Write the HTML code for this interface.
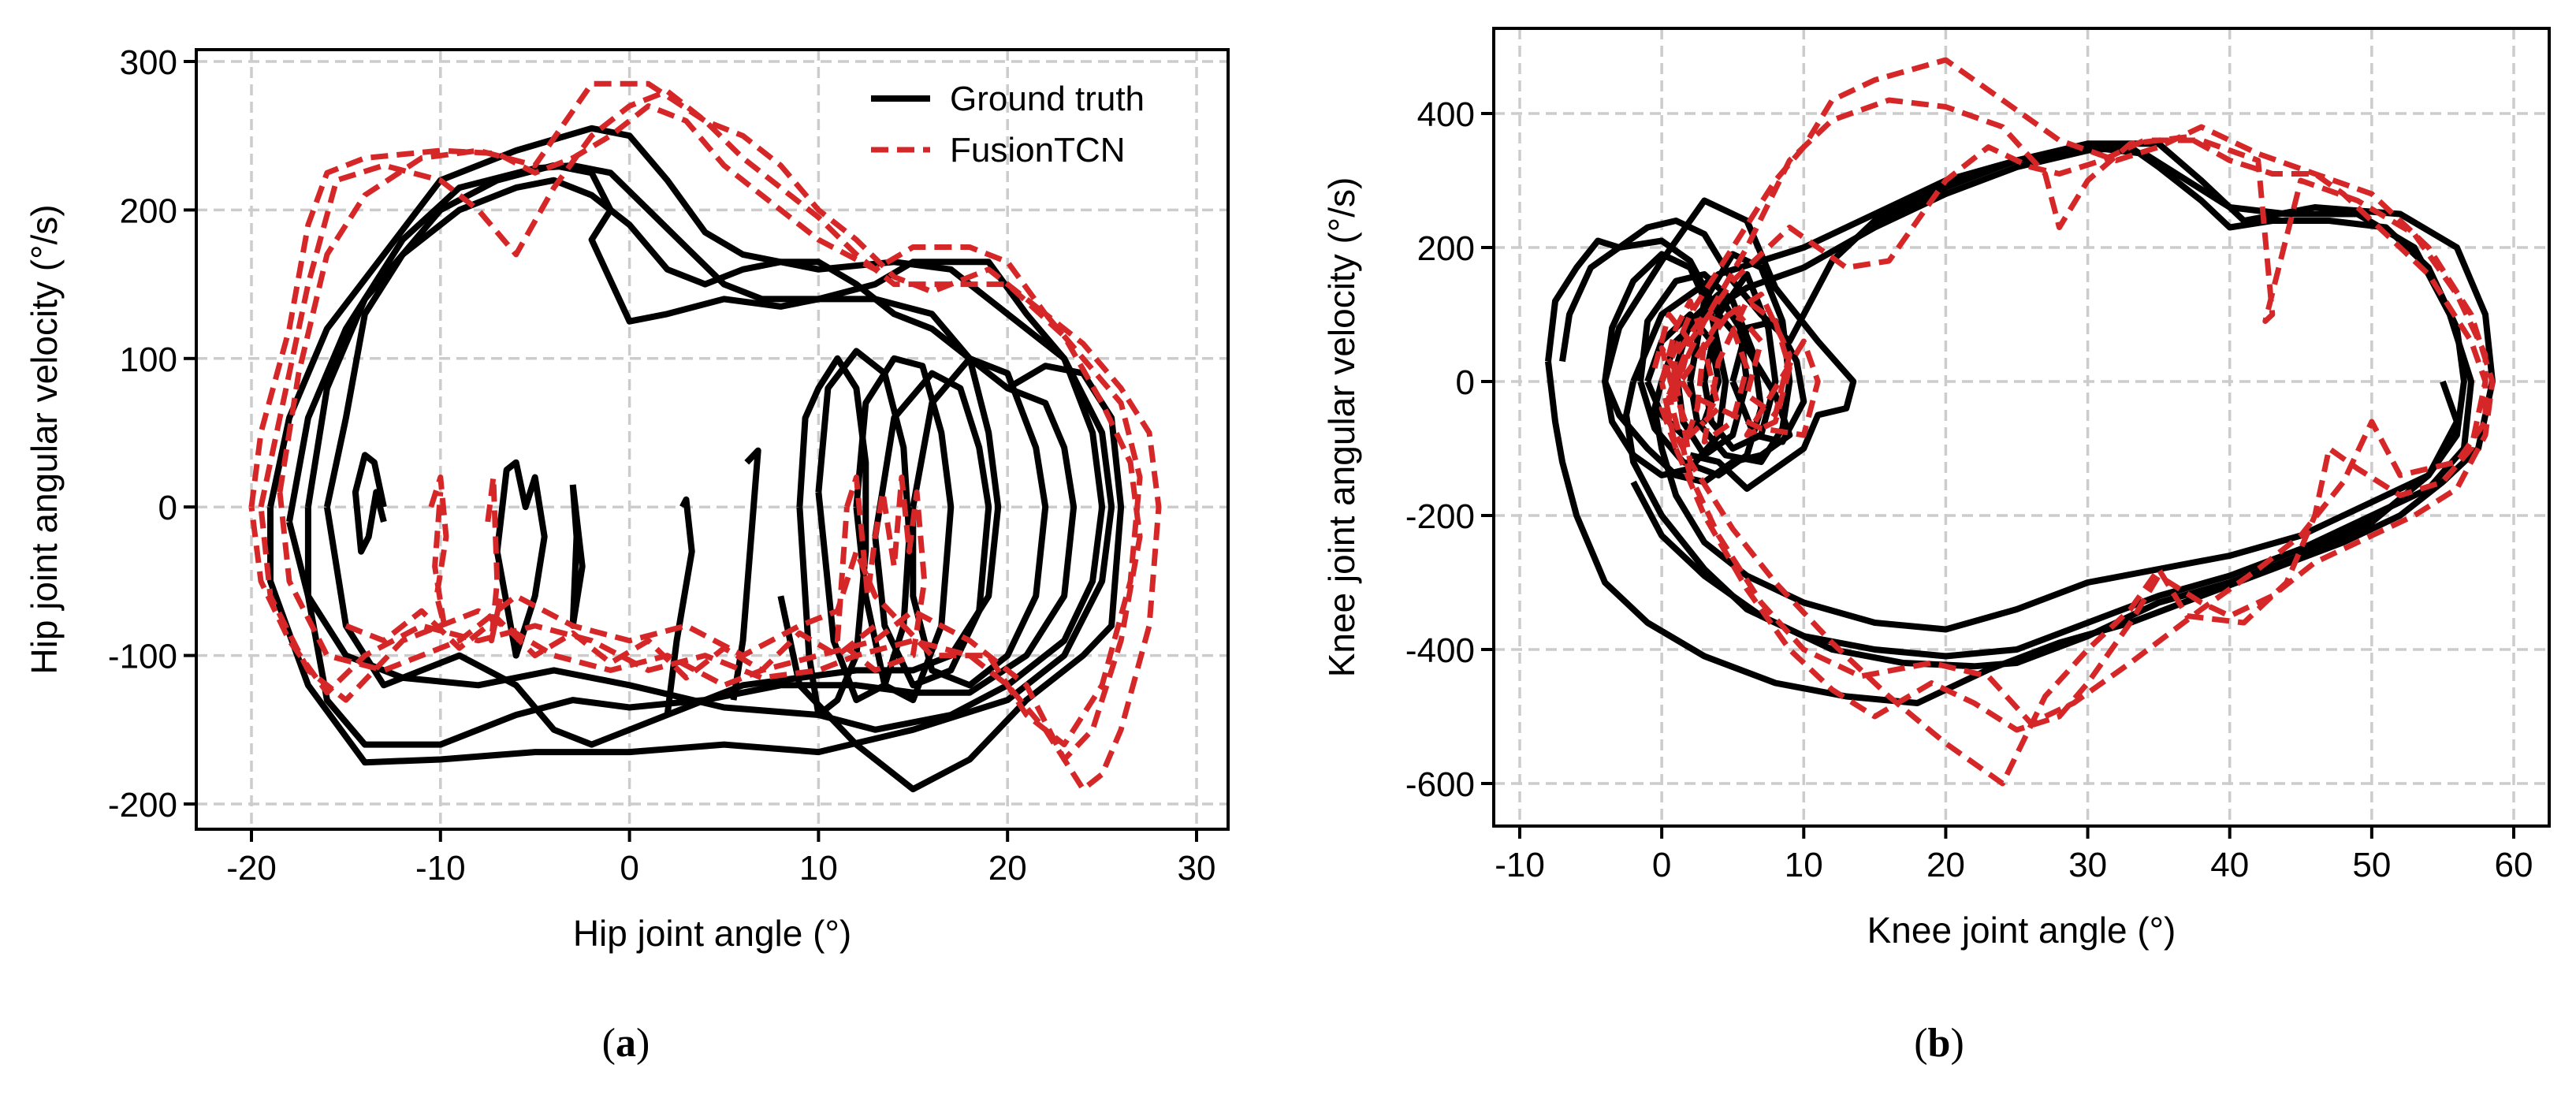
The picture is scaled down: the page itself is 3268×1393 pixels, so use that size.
<!DOCTYPE html>
<html><head><meta charset="utf-8">
<style>
html,body{margin:0;padding:0;background:#fff;}
svg{display:block;font-family:"Liberation Sans","DejaVu Sans",sans-serif;}
</style></head>
<body>
<svg id="fig" width="3268" height="1393" viewBox="0 0 3268 1393" xmlns="http://www.w3.org/2000/svg">
<defs>
<clipPath id="clipA"><rect x="249" y="63" width="1309" height="989"/></clipPath>
<clipPath id="clipB"><rect x="1895" y="36" width="1339" height="1012"/></clipPath>
</defs>
<g id="panelA"></g>
<g id="panelB"></g>
<text x="794" y="1340" font-family="Liberation Serif,serif" font-size="52" text-anchor="middle">(<tspan font-weight="bold">a</tspan>)</text>
<text x="2460" y="1340" font-family="Liberation Serif,serif" font-size="52" text-anchor="middle">(<tspan font-weight="bold">b</tspan>)</text>
</svg>
<script>
// ---------- Panel A data (hip angle °, hip velocity °/s) ----------
const hipXTicks = [-20,-10,0,10,20,30];
const hipYTicks = [-200,-100,0,100,200,300];
const hipTruth = [
 [[-19,0],[-18,60],[-16,120],[-13,170],[-10,220],[-6,240],[-2,255],[0,250],[2,220],[4,185],[6,170],[10,160],[14,165],[17,160],[20,130],[23,100],[25,50],[25.5,0],[25,-50],[23,-100],[20,-130],[15,-150],[10,-165],[5,-160],[0,-165],[-5,-165],[-10,-170],[-14,-172],[-17,-120],[-19,-50],[-19,0]],
 [[-18,-10],[-17,60],[-15,120],[-12,180],[-9,215],[-5,228],[-3,230],[-1,225],[1,200],[3,175],[5,150],[7,140],[10,140],[13,150],[15,165],[17,165],[19,165],[21,130],[23,100],[24.5,50],[25,0],[24.5,-50],[23,-90],[20,-120],[17,-140],[13,-150],[10,-140],[5,-135],[0,-120],[-4,-110],[-8,-120],[-12,-115],[-15,-100],[-17,-60],[-18,-10]],
 [[-17,0],[-16,80],[-14,140],[-10,200],[-7,220],[-4,230],[-2,225],[-1,200],[-2,180],[0,125],[2,130],[5,140],[8,135],[10,140],[13,140],[16,130],[18,100],[20,80],[22,70],[23,40],[23.5,0],[23,-60],[21,-100],[18,-125],[15,-125],[12,-120],[8,-120],[4,-130],[0,-135],[-3,-130],[-6,-140],[-10,-160],[-14,-160],[-16,-130],[-17,-60],[-17,0]],
 [[-16,0],[-15,60],[-14,130],[-12,170],[-9,200],[-6,215],[-4,220],[-2,210],[0,190],[2,160],[4,150],[6,160],[8,165],[10,165],[12,150],[14,130],[16,120],[18,100],[19,50],[19.5,0],[19,-60],[17,-100],[15,-110],[12,-110],[9,-115],[6,-120],[3,-135],[0,-150],[-2,-160],[-4,-150],[-6,-120],[-9,-100],[-13,-120],[-15,-80],[-16,0]],
 [[-13,0],[-13.5,30],[-14,35],[-14.5,10],[-14.2,-30],[-13.8,-20],[-13.4,10],[-13,-10]],
 [[-7,-30],[-6.5,25],[-6,30],[-5.5,0],[-5,20],[-4.5,-20],[-5,-60],[-6,-100],[-7,-30]],
 [[-3,15],[-2.8,-20],[-3,-80],[-2.5,-40],[-3,15]],
 [[2.8,0],[3,5],[3.3,-30],[2.5,-90],[2,-140]],
 [[6.2,30],[6.8,38],[6.5,-10],[6,-90],[5.5,-130]],
 [[9,0],[9.3,60],[10,80],[11,100],[12,80],[12.5,30],[12.5,-30],[12,-100],[11,-130],[10,-140],[9.5,-100],[9,0]],
 [[10,10],[10.5,80],[12,105],[13.5,90],[14.5,40],[14.8,-20],[14.5,-80],[13.5,-120],[12,-130],[10.8,-90],[10,10]],
 [[12,0],[12.5,70],[14,100],[15.5,95],[16.5,50],[17,0],[16.5,-80],[15,-130],[13.5,-120],[12.5,-60],[12,0]],
 [[13,-20],[14,60],[16,90],[17.5,80],[18.5,40],[19,0],[18.5,-70],[17,-110],[15,-120],[13.5,-80],[13,-20]],
 [[15,0],[16,70],[18,100],[20,90],[21.5,40],[22,0],[21.5,-60],[20,-100],[18,-120],[16,-110],[15,-60],[15,0]],
 [[8,-60],[9,-120],[12,-160],[15,-190],[18,-170],[21,-130],[24,-100],[25.5,-80],[26,0],[25.5,60],[24,90],[22,95],[20,80]]
];
const hipPred = [
 [[-20,0],[-19.5,50],[-18,120],[-17,190],[-16,225],[-14,235],[-10,240],[-7,238],[-5,225],[-3,235],[-1,250],[1,270],[3,260],[5,230],[8,200],[10,180],[13,160],[15,175],[18,175],[20,165],[22,130],[24,110],[26,80],[27.5,50],[28,0],[27.5,-80],[26,-150],[25,-180],[24,-190],[22,-150],[20,-120],[18,-100],[15,-90],[12,-100],[10,-110],[7,-115],[4,-100],[1,-110],[-2,-90],[-5,-80],[-8,-90],[-11,-80],[-14,-100],[-16,-125],[-18,-90],[-19.5,-50],[-20,0]],
 [[-19.5,0],[-18.5,60],[-17,150],[-15.5,220],[-13,230],[-10,220],[-8,200],[-6,170],[-4,215],[-2,250],[0,270],[2,280],[4,260],[6,235],[8,215],[10,195],[12,170],[14,150],[17,150],[20,150],[23,115],[25,70],[26.5,30],[27,-20],[26,-90],[24.5,-150],[23,-170],[21,-120],[18,-90],[15,-70],[13,-90],[10,-100],[7,-110],[5,-120],[2,-100],[-1,-110],[-4,-100],[-8,-70],[-12,-90],[-15,-130],[-17,-110],[-19,-60],[-19.5,0]],
 [[-18.5,10],[-17.5,90],[-16,170],[-14,210],[-11,235],[-8,240],[-5,230],[-2,285],[1,285],[4,260],[6,250],[8,230],[10,200],[12,180],[14,155],[16,145],[19,160],[22,130],[24,100],[26,70],[27,20],[26.5,-50],[25,-120],[23,-160],[21,-140],[19,-100],[16,-100],[13,-60],[12,-30],[11,-70],[9,-80],[6,-100],[3,-80],[0,-90],[-3,-80],[-6,-60],[-9,-90],[-13,-110],[-16,-100],[-18,-50],[-18.5,10]],
 [[-10.5,0],[-10,20],[-9.7,-20],[-10.2,-60],[-9.8,-80],[-10.3,-40],[-10,10]],
 [[-7.5,-10],[-7.2,20],[-7,-50],[-7.3,-90],[-6.8,-60]],
 [[11.5,0],[12,20],[12.3,-20],[12.6,-60],[13,-20],[13.4,10],[14,-40],[14.4,20],[14.8,-30],[15.2,10],[15.6,-50],[15,-100],[13,-110],[11,-90],[11.5,0]],
 [[-15,-80],[-13,-90],[-11,-70],[-9,-95],[-7,-75],[-5,-100],[-3,-85],[-1,-105],[1,-90],[3,-115],[5,-95],[7,-110],[9,-85],[11,-100],[13,-80]]
];
// ---------- Panel B data (knee angle °, knee velocity °/s) ----------
const kneeXTicks = [-10,0,10,20,30,40,50,60];
const kneeYTicks = [-600,-400,-200,0,200,400];
const kneeTruth = [
 [[0,0],[1,60],[3,100],[6,140],[10,170],[15,230],[20,280],[25,320],[30,345],[33,350],[35,320],[38,270],[40,230],[43,240],[47,240],[51,230],[54,170],[56,80],[56.5,0],[56,-80],[54,-140],[50,-180],[45,-230],[40,-260],[35,-280],[30,-300],[25,-340],[20,-370],[15,-360],[10,-330],[6,-290],[3,-240],[1,-170],[0,-100],[-0.5,-40],[0,0]],
 [[-2,0],[0,100],[4,160],[10,200],[15,250],[20,300],[25,330],[30,350],[34,340],[37,300],[40,260],[44,250],[49,250],[53,200],[55.5,100],[57,0],[56.5,-100],[54,-160],[50,-200],[45,-250],[40,-290],[35,-320],[30,-360],[25,-400],[20,-410],[15,-400],[10,-380],[6,-340],[3,-280],[0,-200],[-2,-120],[-2.5,-50],[-2,0]],
 [[-8,30],[-7.5,120],[-6,170],[-4.5,210],[-3,200],[-1,230],[1,240],[3,220],[5,150],[7,100],[9,60],[12,180],[15,240],[20,290],[25,330],[30,355],[35,355],[38,300],[41,240],[46,260],[52,250],[56,200],[58,100],[58.5,0],[57.5,-100],[55,-150],[52,-200],[48,-240],[43,-280],[38,-320],[33,-360],[28,-390],[23,-430],[18,-480],[13,-470],[8,-450],[3,-410],[-1,-360],[-4,-300],[-6,-200],[-7,-120],[-7.5,-60],[-8,30]],
 [[-7,30],[-6.5,100],[-5,170],[-3,200],[0,210],[2,180],[4,100],[6,50],[8,-20],[9,-80],[7,-110],[5,-120],[3,-150],[1,-140],[-1,-100],[-3,-50],[-4,0],[-3,80],[0,180],[3,270],[6,240],[8,140],[11,60],[13.5,0],[13,-40],[11,-50],[10,-100],[8,-130],[6,-160],[4,-120],[2,-110]],
 [[-2,-150],[0,-230],[3,-290],[7,-350],[12,-400],[17,-420],[22,-425],[25,-420],[30,-380],[35,-330],[40,-300],[45,-260],[50,-210],[54,-140],[56,-60],[55,0]],
 [[-1,0],[0,60],[2,100],[3.5,60],[4,0],[3,-60],[1.5,-80],[0,-50],[-1,0]],
 [[1,20],[2,90],[4,130],[5.5,80],[6,0],[5,-80],[3,-110],[1.5,-60],[1,20]],
 [[3,0],[4,100],[6,160],[7.5,80],[8,0],[7,-80],[5,-100],[3.5,-60],[3,0]],
 [[5,0],[6,80],[8,90],[9.5,30],[10,-30],[8.5,-90],[6.5,-80],[5,0]],
 [[-4,0],[-3.5,80],[-2,150],[0,190],[2,170],[3.5,100],[4.5,0],[4,-80],[2,-130],[0,-140],[-2,-110],[-3.5,-60],[-4,0]],
 [[-1.5,0],[-1,90],[1,150],[3,160],[5,120],[6.5,40],[7,-40],[6,-110],[4,-140],[1.5,-120],[-0.5,-70],[-1.5,0]],
 [[2,0],[3,120],[5,190],[7,170],[8.5,90],[9,0],[8.5,-70],[7,-120],[4.5,-110],[2.5,-60],[2,0]]
];
const kneePred = [
 [[0,0],[2,100],[5,200],[8,300],[10,350],[12,420],[15,450],[20,480],[24,420],[28,360],[32,330],[35,350],[38,380],[42,340],[46,310],[50,280],[54,200],[57,100],[58.5,0],[58,-80],[56,-160],[53,-200],[50,-230],[46,-270],[43,-320],[40,-350],[38,-330],[35,-290],[33,-360],[30,-450],[28,-500],[25,-520],[22,-480],[19,-450],[15,-500],[12,-460],[9,-400],[6,-310],[3,-200],[1,-100],[0,0]],
 [[1,0],[3,90],[6,200],[9,330],[12,390],[16,420],[20,410],[24,380],[27,310],[28,230],[30,300],[33,355],[37,365],[40,330],[43,310],[46,310],[48,280],[51,220],[54,160],[57,60],[58,0],[57,-100],[55,-150],[52,-170],[49,-130],[47,-100],[46,-200],[44,-300],[41,-360],[37,-350],[35,-280],[33,-340],[30,-400],[27,-470],[24,-600],[20,-540],[16,-470],[12,-390],[8,-300],[5,-220],[2,-120],[1,0]],
 [[0.5,-20],[2,60],[5,150],[9,230],[13,170],[16,180],[20,300],[23,350],[26,320],[28,310],[31,330],[34,360],[38,360],[42,330],[43,100],[42.5,90],[45,300],[49,270],[53,220],[56,130],[58,40],[58,-60],[56,-120],[52,-140],[50,-60],[48,-150],[45,-230],[42,-280],[38,-340],[33,-420],[29,-480],[26,-510],[23,-440],[19,-420],[14,-440],[10,-400],[7,-330],[4,-230],[2,-140],[0.5,-20]],
 [[0,0],[1,80],[2,120],[3,60],[2.5,-40],[1.5,-100],[0.5,-60],[1,40],[3,100],[5,80],[6,20],[5,-60],[3,-90],[4,30],[6,120],[8,90],[9,20],[8,-60],[6,-80],[10,60],[11,0],[10,-80],[7,-70],[2,-20],[0,50],[1,-30]],
 [[-0.5,20],[0.5,100],[2,60],[1,-20],[2,-80],[4,-40],[3,50],[5,110],[7,60],[6,-20],[8,-50],[9,40],[7,130],[4,90],[2,20],[0,-40],[1,-100],[3,-60]]
];

const NS = "http://www.w3.org/2000/svg";
function mk(tag, attrs, parent){ const e=document.createElementNS(NS,tag); for(const k in attrs) e.setAttribute(k,attrs[k]); parent.appendChild(e); return e; }

function drawPanel(g, cfg){
  const sx = v => cfg.x0px + (v - cfg.x0v) * cfg.xs;
  const sy = v => cfg.y0px - (v - cfg.y0v) * cfg.ys;
  const gridG = mk('g',{},g);
  
  
  cfg.xt.forEach(t=>{ const X=sx(t);
    const l=mk('line',{x1:X,x2:X,y1:cfg.top,y2:cfg.bottom,stroke:'#cccccc','stroke-width':3.5,'stroke-dasharray':'14,8'},gridG);
    
    
    const tk=mk('line',{x1:X,x2:X,y1:cfg.bottom,y2:cfg.bottom+16,stroke:'#000','stroke-width':4},g);
    
    
    const tx=mk('text',{x:X,y:cfg.bottom+64,'font-size':44,'text-anchor':'middle'},g);
    tx.textContent=String(t);
    
    
  });
  cfg.yt.forEach(t=>{ const Y=sy(t);
    const l=mk('line',{x1:cfg.left,x2:cfg.right,y1:Y,y2:Y,stroke:'#cccccc','stroke-width':3.5,'stroke-dasharray':'14,8'},gridG);
    
    
    const tk=mk('line',{x1:cfg.left-16,x2:cfg.left,y1:Y,y2:Y,stroke:'#000','stroke-width':4},g);
    
    
    const tx=mk('text',{x:cfg.left-24,y:Y+16,'font-size':44,'text-anchor':'end'},g);
    tx.textContent=String(t);
    
    
  });
  const dataG = mk('g',{'clip-path':'url(#'+cfg.clip+')'},g);
  
  
  const toD = pts => pts.map((p,i)=>(i?'L':'M')+sx(p[0]).toFixed(1)+','+sy(p[1]).toFixed(1)).join(' ');
  cfg.truth.forEach(pts=>{
    const p=mk('path',{d:toD(pts),fill:'none',stroke:'#000','stroke-width':8,'stroke-linejoin':'round'},dataG);
    
    
  });
  cfg.pred.forEach(pts=>{
    const p=mk('path',{d:toD(pts),fill:'none',stroke:'#d62728','stroke-width':7,'stroke-dasharray':'22,11','stroke-linejoin':'round'},dataG);
    
    
  });
  const frame=mk('rect',{x:cfg.left,y:cfg.top,width:cfg.right-cfg.left,height:cfg.bottom-cfg.top,fill:'none',stroke:'#000','stroke-width':4},g);
  
  
  const xl=mk('text',{x:(cfg.left+cfg.right)/2,y:cfg.bottom+148,'font-size':46,'text-anchor':'middle'},g);
  xl.textContent=cfg.xlabel;
  
  
  const cy=(cfg.top+cfg.bottom)/2;
  const yl=mk('text',{x:cfg.ylx,y:cy,'font-size':46,'text-anchor':'middle',transform:'rotate(-90 '+cfg.ylx+' '+cy+')'},g);
  yl.textContent=cfg.ylabel;
  
  
}

drawPanel(document.getElementById('panelA'),{
  id:'hip', clip:'clipA', left:249, right:1558, top:63, bottom:1052,
  x0px:319, x0v:-20, xs:(1518-319)/50, y0px:1020, y0v:-200, ys:(1020-78)/500,
  xt:hipXTicks, yt:hipYTicks, truth:hipTruth, pred:hipPred,
  xlabel:'Hip joint angle (°)', ylabel:'Hip joint angular velocity (°/s)', ylx:72
});
drawPanel(document.getElementById('panelB'),{
  id:'knee', clip:'clipB', left:1895, right:3234, top:36, bottom:1048,
  x0px:1928, x0v:-10, xs:(3189-1928)/70, y0px:994, y0v:-600, ys:(994-144)/1000,
  xt:kneeXTicks, yt:kneeYTicks, truth:kneeTruth, pred:kneePred,
  xlabel:'Knee joint angle (°)', ylabel:'Knee joint angular velocity (°/s)', ylx:1718
});

// legend
const lg = mk('g',{},document.getElementById('panelA'));


const l1=mk('line',{x1:1105,x2:1180,y1:125,y2:125,stroke:'#000','stroke-width':8},lg);


const t1=mk('text',{x:1205,y:140,'font-size':44},lg); t1.textContent='Ground truth';


const l2=mk('line',{x1:1105,x2:1180,y1:190,y2:190,stroke:'#d62728','stroke-width':7,'stroke-dasharray':'22,11'},lg);


const t2=mk('text',{x:1205,y:205,'font-size':44},lg); t2.textContent='FusionTCN';


</script>
</body></html>
